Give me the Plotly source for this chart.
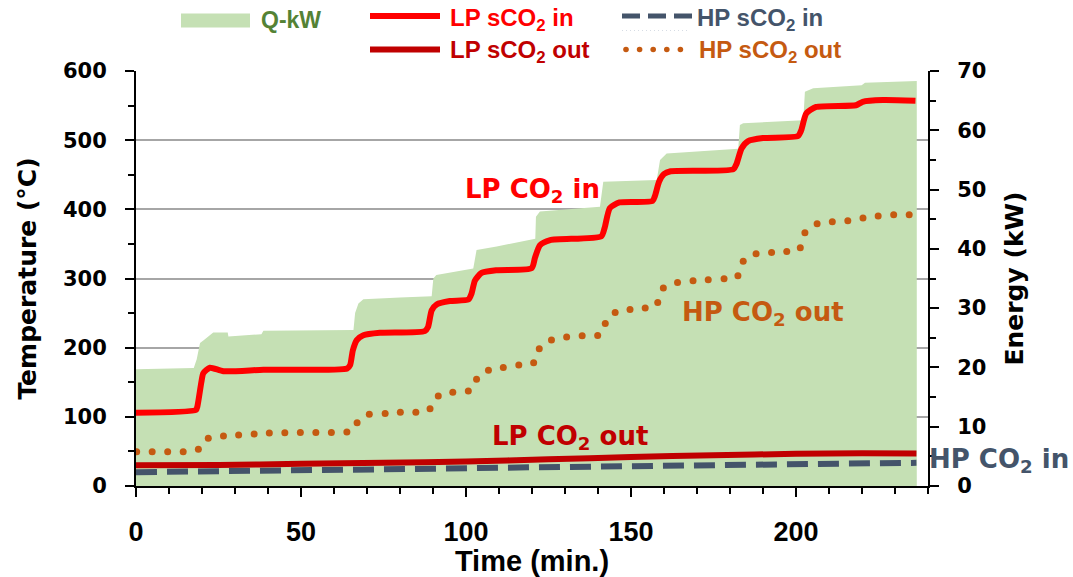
import plotly.graph_objects as go

# ---------------- data ----------------
time_q = [0, 17.5, 18.4, 19.4, 20.5, 23.4, 27.8, 28.0, 38.0, 38.6, 65.9, 66.4, 67.4, 68.9, 80.0,
          89.6, 90.1, 91.0, 102.2, 102.7, 103.2, 109.3, 119.4, 121.0, 121.2, 122.4, 140.6, 141.6,
          157.8, 158.8, 160.8, 182.5, 183.0, 184.0, 202.2, 202.7, 205.2, 219.9, 220.9, 236.6]
q_kw = [19.7, 19.9, 21.4, 24.1, 24.6, 25.9, 25.9, 25.2, 25.6, 26.2, 26.3, 29.2, 30.8, 31.5, 31.8,
        32.0, 35.0, 35.6, 36.7, 38.2, 39.8, 40.4, 41.6, 41.7, 45.4, 46.3, 47.1, 51.3,
        51.6, 55.0, 56.1, 56.9, 60.9, 61.2, 61.7, 66.5, 67.1, 67.6, 68.0, 68.3]

time_lp_in = [0, 18.2, 18.6, 19.8, 20.4, 22.4, 26.5, 38.6, 64.0, 64.9, 65.7, 66.9, 68.9, 73.9, 87.5,
              88.5, 89.6, 91.1, 95.1, 100.7, 101.7, 102.7, 104.7, 109.3, 119.9, 120.9, 122.4, 125.5,
              141.0, 142.0, 143.6, 146.5, 156.5, 157.3, 158.5, 160.0, 162.0, 181.0, 182.0, 183.5,
              185.5, 190.0, 200.6, 201.6, 203.1, 206.1, 218.2, 220.2, 226.3, 236.2]
lp_in = [106, 110, 115, 150, 163, 171, 166, 168, 170, 175, 196, 211, 218, 221.5, 224,
         230, 254, 262.5, 267.5, 269.5, 278.5, 297, 308, 312, 315, 330, 348, 355.5,
         361, 373, 402, 410, 412, 420, 440, 451, 455, 458, 466, 488,
         498.5, 503, 506, 514.5, 538.5, 548, 550.5, 555.5, 558, 557]

time_lp_out = [0, 25, 50, 75, 100, 125, 150, 175, 200, 220, 236.5]
lp_out = [30, 30.5, 32, 33.5, 35.5, 38.5, 42, 44.5, 46.5, 47.5, 47]

time_hp_in = [0, 30, 60, 90, 120, 150, 180, 210, 236.5]
hp_in = [20, 21, 23, 25, 27, 29, 31, 32.5, 33.5]

time_hp_out = [0.2, 4.9, 9.6, 14.3, 18.9, 21.9, 26.5, 31.1, 35.8, 40.4, 45.1, 49.8, 54.5, 59.2, 63.9,
               67.0, 70.7, 75.5, 80.1, 84.8, 89.1, 91.6, 96.0, 100.7, 103.2, 106.8, 111.3, 116.0,
               120.5, 122.2, 125.9, 130.5, 135.2, 139.9, 142.2, 145.2, 149.7, 154.3, 158.1, 159.8,
               164.1, 168.8, 173.4, 178.2, 182.4, 184.0, 187.9, 192.6, 197.2, 201.3, 202.7, 206.4,
               211.0, 215.7, 220.3, 224.9, 229.6, 234.3]
hp_out = [49.6, 49.6, 49.6, 49.6, 53, 68.9, 72.3, 73.7, 75.1, 76.6, 77, 77.5, 77.5, 77.5, 78,
          91.5, 103.6, 105, 106.5, 106.5, 111.7, 130, 135.4, 137.3, 154.2, 167.2, 171.5, 174.9,
          178.2, 198.4, 211, 215.3, 217.2, 217.7, 235.1, 251, 255.3, 257.2, 265.4, 286.1,
          294.3, 296.7, 298.2, 299.6, 303.9, 325.1, 335.7, 337.7, 339.2, 344.4, 366, 379,
          382, 383.4, 387.3, 390.2, 392.1, 392.1]

x_ticks = [0, 50, 100, 150, 200]
temp_ticks = [0, 100, 200, 300, 400, 500, 600]
energy_ticks = [0, 10, 20, 30, 40, 50, 60, 70]

# ---------------- styling ----------------
C_AREA = "#C5E0B4"
C_QTXT = "#548235"
C_LPIN = "#FF0000"
C_LPOUT = "#C00000"
C_HPIN = "#44546A"
C_HPOUT = "#C55A11"

W, H = 1073, 577
L, R, T, B = 136, 145, 71, 91
PW, PH = W - L - R, H - T - B


def px(x):
    return (x - L) / PW


def py(y):
    return (H - B - y) / PH


CAL = "DejaVu Sans"
ARI = "Liberation Sans, Arial"

fig = go.Figure()

fig.add_trace(go.Scatter(x=time_q, y=q_kw, name="Q-kW", mode="lines", yaxis="y",
                         line=dict(width=0, color=C_AREA), fill="tozeroy", fillcolor=C_AREA,
                         showlegend=False))
fig.add_trace(go.Scatter(x=time_hp_in, y=hp_in, name="HP sCO2 in", mode="lines", yaxis="y2",
                         line=dict(width=6, color=C_HPIN, dash="21px,10px"), showlegend=False))
fig.add_trace(go.Scatter(x=time_lp_out, y=lp_out, name="LP sCO2 out", mode="lines", yaxis="y2",
                         line=dict(width=6, color=C_LPOUT, shape="spline", smoothing=0.6),
                         showlegend=False))
fig.add_trace(go.Scatter(x=time_hp_out, y=hp_out, name="HP sCO2 out", mode="markers", yaxis="y2",
                         marker=dict(size=7, color=C_HPOUT, line=dict(width=0)), showlegend=False))
fig.add_trace(go.Scatter(x=time_lp_in, y=lp_in, name="LP sCO2 in", mode="lines", yaxis="y2",
                         line=dict(width=6, color=C_LPIN, shape="spline", smoothing=0.6),
                         showlegend=False))

tick_common = dict(ticks="outside", ticklen=9, tickwidth=2, tickcolor="black",
                   showline=True, linewidth=2, linecolor="black", zeroline=False)

fig.update_layout(
    width=W, height=H, margin=dict(l=L, r=R, t=T, b=B, autoexpand=False),
    paper_bgcolor="white", plot_bgcolor="white", showlegend=False,
    xaxis=dict(range=[0, 240], tickvals=x_ticks, showgrid=False, anchor="y",
               minor=dict(dtick=10, ticks="outside", ticklen=6, tickwidth=2, tickcolor="black"),
               tickfont=dict(family=ARI, size=27, color="black", weight="bold"),
               ticklabelstandoff=12,
               title=dict(text="Time (min.)", standoff=2,
                          font=dict(family=ARI, size=29, color="black", weight="bold")),
               automargin=False, **tick_common),
    yaxis=dict(range=[0, 70], tickvals=energy_ticks, side="right", showgrid=False, anchor="x",
               minor=dict(dtick=5, ticks="outside", ticklen=6, tickwidth=2, tickcolor="black"),
               tickfont=dict(family=CAL, size=21, color="black", weight="bold"),
               ticklabelstandoff=14,
               title=dict(text="Energy (kW)", standoff=20,
                          font=dict(family=CAL, size=25, color="black", weight="bold")),
               automargin=False, **tick_common),
    yaxis2=dict(range=[0, 600], tickvals=temp_ticks, side="left", overlaying="y", anchor="x",
                showgrid=True, gridcolor="#A6A6A6", gridwidth=1.5,
                minor=dict(dtick=50, ticks="outside", ticklen=6, tickwidth=2, tickcolor="black",
                           showgrid=False),
                tickfont=dict(family=CAL, size=21, color="black", weight="bold"),
                ticklabelstandoff=14,
                title=dict(text="Temperature (°C)", standoff=19,
                           font=dict(family=CAL, size=25, color="black", weight="bold")),
                automargin=False, **tick_common),
)

# ---------------- manual legend ----------------
shapes = []
shapes.append(dict(type="rect", xref="paper", yref="paper", x0=px(181), x1=px(250),
                   y0=py(27.5), y1=py(13.5), fillcolor=C_AREA, line=dict(width=0)))
shapes.append(dict(type="line", xref="paper", yref="paper", x0=px(370), x1=px(440),
                   y0=py(16), y1=py(16), line=dict(color=C_LPIN, width=6)))
shapes.append(dict(type="line", xref="paper", yref="paper", x0=px(370), x1=px(440),
                   y0=py(49.5), y1=py(49.5), line=dict(color=C_LPOUT, width=6)))
shapes.append(dict(type="line", xref="paper", yref="paper", x0=px(622), x1=px(692),
                   y0=py(16), y1=py(16), line=dict(color=C_HPIN, width=5, dash="18px,8px")))
shapes.append(dict(type="line", xref="paper", yref="paper", x0=px(622), x1=px(690),
                   y0=py(30.5), y1=py(30.5), line=dict(color="#D6DCE4", width=1, dash="1px,3px")))
for i in range(5):
    cx = 626 + i * 13.6
    shapes.append(dict(type="circle", xref="paper", yref="paper", x0=px(cx - 2.8), x1=px(cx + 2.8),
                       y0=py(49.5 + 2.8), y1=py(49.5 - 2.8), fillcolor=C_HPOUT, line=dict(width=0)))

annotations = []


def add_text(text, x, y, color, family, size):
    annotations.append(dict(text=text, xref="paper", yref="paper", x=px(x), y=py(y),
                            xanchor="left", yanchor="middle", showarrow=False,
                            font=dict(family=family, size=size, color=color, weight="bold")))


add_text("Q-kW", 259, 20.5, C_QTXT, ARI, 23)
add_text("LP sCO<sub>2</sub> in", 448, 20, C_LPIN, ARI, 24)
add_text("LP sCO<sub>2</sub> out", 448, 52, C_LPOUT, ARI, 24)
add_text("HP sCO<sub>2</sub> in", 695, 20, C_HPIN, ARI, 24)
add_text("HP sCO<sub>2</sub> out", 697, 52, C_HPOUT, ARI, 24)

# in-chart series labels
add_text("LP CO<sub>2</sub> in", 463, 190, C_LPIN, CAL, 26)
add_text("HP CO<sub>2</sub> out", 680, 313, C_HPOUT, CAL, 26)
add_text("LP CO<sub>2</sub> out", 490, 437, C_LPOUT, CAL, 26)
add_text("HP CO<sub>2</sub> in", 927, 460, C_HPIN, CAL, 26)

fig.update_layout(shapes=shapes, annotations=annotations)

fig.write_html("out.html")
